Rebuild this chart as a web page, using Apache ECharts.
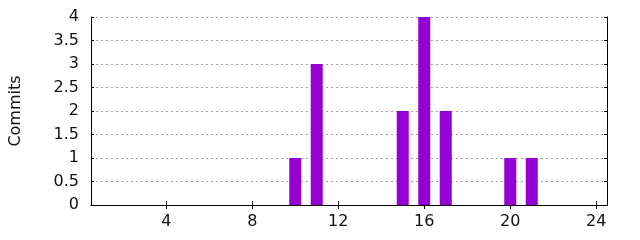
<!DOCTYPE html>
<html><head><meta charset="utf-8">
<script src="https://cdn.jsdelivr.net/npm/echarts@6/dist/echarts.min.js"></script>
<style>html,body{margin:0;padding:0;background:#fff}#c{width:640px;height:240px}</style>
</head><body><div id="c"></div>
<script>
const days = [10, 11, 15, 16, 17, 20, 21];
const commits = [1, 3, 2, 4, 2, 1, 1];
const xTicks = [4, 8, 12, 16, 20, 24];
const yTicks = [0, 0.5, 1, 1.5, 2, 2.5, 3, 3.5, 4];
const yLabel = 'Commits';

const font = 'DejaVu Sans';
const chart = echarts.init(document.getElementById('c'), null, {renderer: 'canvas'});
const axisLine = {show: true, lineStyle: {color: '#000', width: 1}};
chart.setOption({
  animation: false,
  grid: {left: 88, right: 33, top: 17, bottom: 35, containLabel: false},
  xAxis: [{
    type: 'value', min: 0.5, max: 24.5, position: 'bottom',
    axisLine: axisLine,
    axisTick: {show: true, inside: true, length: 4, customValues: xTicks, lineStyle: {color: '#000'}},
    axisLabel: {show: true, customValues: xTicks, color: '#111', fontFamily: font, fontSize: 16, margin: 9},
    splitLine: {show: false}
  }, {
    type: 'value', min: 0.5, max: 24.5, position: 'top',
    axisLine: axisLine,
    axisTick: {show: true, inside: true, length: 4, customValues: xTicks, lineStyle: {color: '#000'}},
    axisLabel: {show: false},
    splitLine: {show: false}
  }],
  yAxis: [{
    type: 'value', min: 0, max: 4, interval: 0.5, position: 'left',
    name: yLabel, nameLocation: 'middle', nameGap: 67, nameRotate: 90,
    nameTextStyle: {fontFamily: font, fontSize: 16, color: '#111'},
    axisLine: axisLine,
    axisTick: {show: true, inside: true, length: 3, lineStyle: {color: '#000'}},
    axisLabel: {show: true, color: '#111', fontFamily: font, fontSize: 16, margin: 12,
      formatter: v => String(v)},
    splitLine: {show: true, lineStyle: {color: '#a0a0a0', type: [2, 3], width: 1}}
  }, {
    type: 'value', min: 0, max: 4, interval: 0.5, position: 'right',
    axisLine: axisLine,
    axisTick: {show: true, inside: true, length: 3, lineStyle: {color: '#000'}},
    axisLabel: {show: false},
    splitLine: {show: false}
  }],
  series: [{
    type: 'bar', xAxisIndex: 0, yAxisIndex: 0,
    data: days.map((d, i) => [d, commits[i]]),
    barWidth: 12,
    itemStyle: {color: '#9400d3'}
  }]
});
</script></body></html>
